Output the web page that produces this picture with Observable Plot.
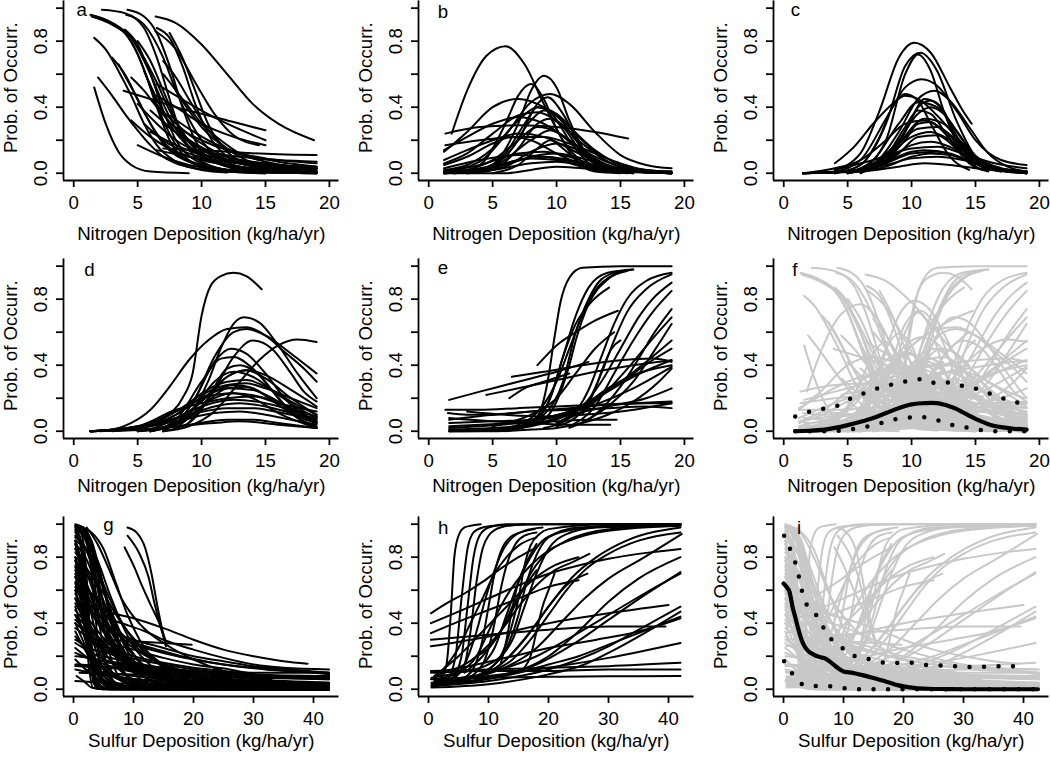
<!DOCTYPE html>
<html><head><meta charset="utf-8">
<script src="https://cdn.jsdelivr.net/npm/d3@7"></script>
<script src="https://cdn.jsdelivr.net/npm/@observablehq/plot@0.6"></script>
<style>
html,body{margin:0;padding:0;background:#fff;}
body{width:1050px;height:759px;overflow:hidden;position:relative;font-family:"Liberation Sans",Arial,Helvetica,sans-serif;}
.panel{position:absolute;}
</style></head><body>
<script>
// ---------- tick values and labels ----------
const nitrogenTicks = [0, 5, 10, 15, 20];
const sulfurTicks = [0, 10, 20, 30, 40];
const probTicks = [0, 0.2, 0.4, 0.6, 0.8, 1.0];
const probLabelValues = [0, 0.4, 0.8];
const probLabelText = ["0.0", "0.4", "0.8"];
const nitrogenTitle = "Nitrogen Deposition (kg/ha/yr)";
const sulfurTitle = "Sulfur Deposition (kg/ha/yr)";
const yTitle = "Prob. of Occurr.";
const panelLetters = ["a","b","c","d","e","f","g","h","i"];

// ---------- species response curves: [x0,y0,x1,y1,...] ----------
const curvesA = [
 [1.6,0.52, 2.5,0.3, 3.5,0.13, 4.5,0.05, 6,0.01, 9,0],
 [1.9,0.58, 3,0.47, 4,0.36, 5,0.26, 6,0.17, 7,0.1, 8,0.06, 9.5,0.03, 12,0.01, 15,0],
 [1.6,0.82, 2.5,0.75, 3.5,0.62, 4.5,0.47, 5.5,0.3, 6.5,0.17, 8,0.07, 10,0.02, 12,0.005],
 [1.3,0.96, 2.5,0.93, 4,0.85, 5,0.72, 6,0.52, 7,0.32, 8,0.17, 9,0.08, 11,0.02, 15,0],
 [1.4,0.95, 3,0.9, 4.5,0.8, 5.5,0.63, 6.5,0.4, 7.5,0.2, 9,0.07, 12,0.01, 19,0],
 [1.5,0.95, 3,0.91, 4.5,0.82, 6,0.6, 7,0.42, 8,0.27, 10,0.1, 13,0.03, 19,0.003],
 [2.2,0.99, 4,0.97, 5.5,0.88, 6.5,0.7, 7.5,0.45, 8.5,0.22, 10,0.07, 13,0.01, 19,0],
 [3.5,0.66, 4.5,0.52, 5.5,0.37, 6.5,0.24, 8,0.12, 10,0.05, 13,0.015, 16,0.005],
 [4,0.87, 5,0.78, 6,0.6, 7,0.38, 8,0.2, 9.5,0.08, 12,0.02, 15,0.005],
 [3.9,0.5, 6,0.45, 8,0.4, 10,0.36, 12,0.32, 15,0.26],
 [4.2,0.99, 5.5,0.95, 6.5,0.85, 7.5,0.65, 8.5,0.4, 9.5,0.2, 11,0.07, 14,0.01, 19,0],
 [4.1,0.96, 5.5,0.9, 7,0.7, 8,0.5, 9,0.33, 10.5,0.15, 12.5,0.05, 16,0.01, 19,0],
 [6.4,0.95, 8,0.91, 10,0.78, 12,0.6, 14,0.42, 16,0.3, 18.8,0.2],
 [6.5,0.88, 7.5,0.82, 8.5,0.65, 9.5,0.42, 10.5,0.24, 12,0.1, 14,0.04, 19,0.005],
 [6.4,0.86, 8,0.75, 9.5,0.55, 11,0.36, 12.5,0.23, 14.5,0.17],
 [6.5,0.54, 8,0.47, 10,0.38, 12,0.3, 15,0.2],
 [6.5,0.47, 8,0.4, 10,0.3, 12.5,0.22, 15,0.17],
 [7,0.15, 10,0.14, 13,0.125, 16,0.115, 19,0.11],
 [5.5,0.3, 7,0.2, 9,0.12, 11,0.08, 14,0.05, 19,0.03],
 [4.5,0.32, 6,0.22, 8,0.13, 10,0.08, 13,0.04, 19,0.01],
 [5.5,0.62, 6.5,0.45, 7.5,0.3, 9,0.16, 11,0.07, 15,0.02, 19,0.005],
 [6,0.45, 8,0.3, 10,0.18, 12,0.1, 15,0.06, 19,0.03],
 [5,0.42, 6.5,0.3, 8,0.2, 10,0.12, 13,0.06, 16,0.03],
 [6.5,0.14, 9,0.1, 12,0.07, 15,0.05, 19,0.04],
 [7,0.3, 9,0.2, 11,0.12, 13,0.08, 16,0.05, 19,0.03],
 [7.5,0.85, 8.5,0.7, 9.5,0.5, 10.5,0.3, 12,0.13, 14,0.05, 17,0.01],
 [8,0.28, 10,0.2, 12,0.14, 15,0.09, 19,0.06],
 [5,0.17, 7,0.1, 9,0.05, 12,0.02, 15,0.01],
 [9,0.2, 11,0.1, 13,0.06, 16,0.03, 19,0.02],
 [7,0.6, 8,0.5, 9,0.38, 10,0.28, 12,0.15, 14.5,0.08],
 [3,0.7, 4,0.6, 5,0.45, 6,0.3, 7,0.18, 9,0.07, 12,0.02, 15,0.005],
 [5,0.8, 6,0.68, 7,0.5, 8,0.32, 9,0.19, 11,0.07, 14,0.02, 19,0.003],
 [5.5,0.7, 6.5,0.55, 7.5,0.38, 8.5,0.25, 10,0.12, 12,0.05, 15,0.015, 19,0.005],
 [6,0.38, 7.5,0.28, 9,0.19, 11,0.11, 14,0.05, 19,0.02],
 [4.5,0.58, 5.5,0.5, 6.5,0.4, 8,0.27, 10,0.15, 12.5,0.07, 16,0.03],
 [7,0.68, 8,0.58, 9,0.45, 10,0.32, 11.5,0.18, 13.5,0.08, 16,0.03, 19,0.01],
 [8,0.5, 9,0.4, 10,0.3, 11.5,0.2, 13,0.12, 15,0.07, 19,0.03],
 [6,0.25, 8,0.17, 10,0.11, 12,0.08, 15,0.05, 19,0.04],
 [9,0.15, 11,0.12, 13,0.1, 16,0.08, 19,0.07],
 [7.5,0.35, 9,0.27, 11,0.18, 13,0.12, 16,0.07, 19,0.04]
];
const curvesB = [
 [1.8,0.24, 3,0.5, 4.5,0.71, 6,0.77, 7.5,0.66, 9,0.42, 10.5,0.2, 12,0.07, 14,0.01, 15.6,0],
 [3,0, 5,0.05, 7,0.3, 8,0.5, 9,0.59, 10,0.52, 11,0.32, 12.5,0.1, 14,0.02, 16,0],
 [2,0, 4,0.05, 6,0.3, 7,0.47, 8,0.54, 9,0.45, 10,0.27, 11.5,0.08, 13,0.01, 15,0],
 [1.2,0.01, 4,0.07, 6,0.23, 8,0.43, 9.5,0.48, 11,0.42, 13,0.25, 15,0.11, 17,0.05, 19,0.03],
 [1.2,0.13, 3,0.25, 5,0.4, 7,0.45, 9,0.4, 11,0.28, 13,0.14, 15,0.05, 17,0.02, 19,0.01],
 [1.3,0.24, 4,0.28, 7,0.29, 10,0.28, 13,0.25, 15.6,0.21],
 [1.3,0.17, 4,0.2, 7,0.22, 9,0.22, 11,0.18, 13,0.12, 15,0.06, 17,0.02, 19,0.01],
 [1.2,0.14, 3,0.22, 5,0.3, 7,0.34, 9,0.3, 11,0.2, 13,0.1, 15,0.04, 19,0],
 [1.2,0.02, 3,0.05, 5,0.15, 7,0.32, 8.5,0.4, 10,0.36, 12,0.2, 14,0.07, 16,0.02, 19,0],
 [2,0, 4,0.02, 6,0.12, 7.5,0.3, 8.5,0.4, 9.5,0.37, 11,0.2, 12.5,0.06, 14,0.01],
 [1.2,0.06, 3,0.12, 5,0.24, 7,0.35, 8.5,0.37, 10,0.32, 12,0.18, 14,0.07, 17,0.01],
 [3,0, 5,0.02, 7,0.15, 8.5,0.3, 9.5,0.33, 10.5,0.28, 12,0.12, 13.5,0.03],
 [1.2,0.01, 4,0.05, 7,0.12, 9,0.13, 11,0.1, 13,0.05, 15,0.02, 19,0],
 [1.2,0, 4,0.02, 7,0.08, 9,0.1, 11,0.08, 14,0.03, 19,0],
 [1.2,0, 5,0.02, 8,0.06, 10,0.07, 12,0.05, 15,0.02, 19,0],
 [1.2,0.03, 4,0.08, 7,0.11, 9,0.1, 12,0.06, 15,0.02, 19,0],
 [1.2,0, 5,0.04, 8,0.2, 9.5,0.26, 11,0.2, 13,0.08, 15,0.02],
 [1.2,0.08, 3,0.14, 5,0.2, 7,0.24, 9,0.22, 11,0.15, 13,0.07, 15,0.03, 18,0.01],
 [2,0, 5,0.05, 7,0.2, 8.5,0.42, 9.3,0.46, 10.5,0.36, 12,0.14, 13.5,0.03],
 [1.2,0, 4,0.01, 6,0.04, 8,0.13, 10,0.18, 12,0.13, 14,0.05, 16,0.01, 19,0],
 [1.2,0.01, 4,0.03, 6,0.06, 8,0.09, 10,0.08, 12,0.04, 14,0.01],
 [1.2,0.05, 3,0.1, 5,0.18, 6.5,0.22, 8,0.2, 10,0.12, 12,0.05, 14,0.01],
 [3,0.02, 5,0.08, 7,0.2, 8.5,0.28, 10,0.25, 12,0.12, 14,0.03, 16,0],
 [1.2,0, 3,0.01, 6,0.05, 8,0.1, 10,0.12, 12,0.09, 14,0.04, 16,0.01, 19,0],
 [5,0, 7,0.05, 8.5,0.15, 9.5,0.2, 10.5,0.15, 12,0.05, 13.5,0.01],
 [1.2,0, 6,0, 8,0.02, 10,0.04, 12,0.03, 15,0.01, 19,0],
 [4,0.02, 6,0.1, 8,0.32, 9,0.38, 10,0.35, 11.5,0.2, 13,0.07, 15,0.01]
];
const curvesC = [
 [4,0.02, 6,0.12, 7.5,0.38, 9,0.7, 10.2,0.79, 11.5,0.73, 13,0.52, 14,0.38, 14.7,0.3],
 [4,0, 6,0.05, 8,0.3, 9.5,0.65, 10.7,0.73, 12,0.62, 13.5,0.32, 15,0.1, 16.5,0.02, 19,0],
 [6,0.02, 8,0.2, 9.5,0.6, 10.5,0.72, 11.5,0.62, 12.5,0.38, 14,0.12, 15.5,0.02],
 [1.5,0, 4,0.01, 6,0.08, 8,0.33, 9.5,0.52, 10.8,0.57, 12,0.53, 13.5,0.38, 15,0.2, 17,0.08, 19,0.05],
 [4,0.06, 5.5,0.16, 7,0.3, 8.5,0.42, 9.5,0.47, 10.5,0.45, 12,0.35, 13.5,0.22, 15,0.1, 17,0.03],
 [5,0, 7,0.05, 9,0.25, 10.5,0.45, 11.8,0.5, 13,0.44, 14.5,0.28, 16,0.12, 17.5,0.04, 19,0.01],
 [4,0, 6,0.05, 7.5,0.22, 8.5,0.4, 9.5,0.48, 10.5,0.44, 11.5,0.3, 13,0.1, 14.5,0.02],
 [1.5,0, 5,0.01, 7,0.08, 9,0.3, 10.5,0.43, 12,0.4, 13.5,0.26, 15,0.1, 17,0.02],
 [5,0, 7,0.05, 9,0.2, 10.5,0.36, 11.5,0.4, 12.5,0.36, 14,0.2, 15.5,0.06, 17,0.01],
 [5,0, 7,0.04, 9,0.18, 11,0.33, 12.5,0.3, 14,0.18, 16,0.05, 19,0],
 [1.5,0, 5,0.01, 7,0.06, 9,0.18, 10.5,0.27, 12,0.28, 13.5,0.2, 15,0.1, 17,0.03, 19,0.01],
 [2,0, 6,0.02, 8,0.1, 10,0.22, 11.5,0.25, 13,0.2, 15,0.08, 17,0.02],
 [1.5,0, 6,0.02, 8,0.08, 10,0.17, 11.5,0.19, 13,0.16, 15,0.08, 17,0.02, 19,0],
 [1.5,0, 5,0.01, 8,0.06, 10,0.12, 12,0.13, 14,0.09, 16,0.04, 19,0.01],
 [1.5,0, 5,0.01, 8,0.05, 10,0.09, 12,0.1, 14,0.08, 16,0.04, 19,0.01],
 [1.5,0, 6,0.01, 9,0.04, 11,0.06, 13,0.05, 15,0.03, 19,0],
 [1.5,0, 6,0.02, 8,0.07, 10,0.13, 11,0.14, 13,0.12, 15,0.06, 17,0.02, 19,0],
 [6,0.01, 8,0.08, 9.5,0.2, 10.5,0.3, 11.5,0.31, 12.5,0.25, 14,0.12, 16,0.02],
 [6,0, 8,0.1, 9.5,0.28, 10.5,0.38, 11.5,0.36, 13,0.2, 14.5,0.06, 16,0.01],
 [1.5,0, 4,0.03, 6,0.08, 8,0.2, 9.5,0.3, 11,0.32, 12.5,0.26, 14,0.15, 16,0.05, 18,0.01],
 [7,0.02, 9,0.12, 10.5,0.22, 12,0.23, 13.5,0.15, 15,0.06, 17,0.01],
 [6,0.01, 8,0.04, 10,0.1, 11.5,0.12, 13,0.11, 15,0.06, 17,0.02],
 [4,0.02, 7,0.08, 10,0.15, 12,0.16, 14,0.12, 16.5,0.06, 19,0.03],
 [6,0.01, 8.5,0.12, 10,0.33, 11,0.45, 12,0.42, 13,0.3, 14.5,0.1, 16,0.02],
 [8,0.05, 9.5,0.25, 10.5,0.4, 11.5,0.44, 12.5,0.38, 13.5,0.22, 15,0.05]
];
const curvesD = [
 [1.3,0, 5,0.02, 7,0.08, 8.5,0.2, 9.3,0.35, 10,0.7, 10.7,0.88, 11.5,0.94, 12.5,0.96, 13.5,0.94, 14.7,0.86],
 [1.3,0, 3,0.01, 4.5,0.05, 6,0.13, 7.5,0.27, 9,0.43, 10.5,0.55, 12,0.62, 13.5,0.63, 15,0.58, 16.5,0.48, 18,0.38, 19,0.3],
 [5,0, 7,0.02, 9,0.1, 10.5,0.3, 11.5,0.5, 12.5,0.65, 13.3,0.69, 14.5,0.66, 16,0.52, 17.5,0.35, 19,0.2],
 [7,0, 9,0.03, 11,0.12, 13,0.3, 14.5,0.43, 16,0.52, 17.5,0.555, 19,0.54],
 [6,0, 8,0.05, 9.5,0.2, 11,0.45, 12.5,0.6, 13.5,0.62, 15,0.58, 16.5,0.5, 18,0.41, 19,0.35],
 [7,0, 9,0.05, 11,0.25, 12.5,0.45, 14,0.55, 15.5,0.5, 17,0.35, 18,0.24, 19,0.18],
 [6,0, 8,0.05, 9.5,0.2, 11,0.42, 12.3,0.5, 13.5,0.47, 15,0.35, 16.5,0.2, 18,0.1, 19,0.06],
 [6,0, 8,0.07, 10,0.3, 11.5,0.44, 12.5,0.45, 14,0.38, 15.5,0.25, 17,0.12, 19,0.05],
 [5,0, 8,0.05, 10,0.18, 12,0.33, 13.5,0.37, 15,0.34, 17,0.25, 19,0.15],
 [3,0, 6,0.04, 8,0.12, 10,0.22, 12,0.28, 13.5,0.29, 15,0.26, 17,0.2, 19,0.14],
 [2,0, 5,0.02, 8,0.1, 10,0.2, 12,0.26, 14,0.25, 16,0.18, 18,0.1, 19,0.07],
 [1.3,0, 5,0.03, 8,0.12, 10,0.2, 12.5,0.23, 15,0.2, 17,0.14, 19,0.09],
 [1.3,0, 5,0.02, 8,0.08, 10,0.15, 12.5,0.19, 15,0.17, 17,0.13, 19,0.09],
 [1.3,0, 5,0.02, 8,0.06, 11,0.11, 13,0.12, 15,0.1, 17,0.07, 19,0.04],
 [1.3,0, 6,0.01, 9,0.04, 12,0.07, 14,0.07, 16,0.05, 19,0.02],
 [1.3,0, 5,0.02, 8,0.1, 10,0.23, 12,0.3, 13.5,0.31, 15,0.27, 17,0.18, 19,0.1],
 [6,0, 8,0.04, 10,0.15, 12,0.26, 13.5,0.27, 15,0.22, 17,0.13, 19,0.05],
 [1.3,0, 6,0.03, 9,0.1, 11,0.15, 13,0.17, 15,0.15, 17,0.11, 19,0.06],
 [6,0.01, 9,0.12, 11,0.24, 12.5,0.28, 14,0.26, 16,0.16, 18,0.06, 19,0.03],
 [7,0.01, 9,0.08, 11,0.2, 12.5,0.23, 14,0.2, 16,0.11, 19,0.02],
 [1.3,0, 5,0.01, 8,0.03, 11,0.05, 13,0.06, 16,0.04, 19,0.02],
 [7,0, 9.5,0.15, 11,0.3, 12.5,0.36, 14,0.33, 16,0.22, 18,0.12, 19,0.08],
 [8,0.02, 10,0.15, 12,0.33, 13.5,0.37, 15,0.32, 17,0.2, 19,0.1],
 [9,0.05, 10.5,0.2, 12,0.38, 13,0.4, 14.5,0.34, 16,0.2, 17.5,0.08, 19,0.02],
 [1.3,0, 5,0.03, 8,0.13, 10,0.17, 12,0.2, 14,0.21, 16,0.17, 19,0.12],
 [1.3,0, 6,0.04, 9,0.1, 12,0.14, 14,0.14, 17,0.1, 19,0.08]
];
const curvesE = [
 [1.6,0, 5,0.003, 7,0.02, 8.5,0.09, 9.3,0.3, 9.8,0.55, 10.3,0.78, 11,0.93, 12,0.99, 15,1, 19,1],
 [6,0.01, 8,0.06, 9.5,0.2, 10.5,0.45, 11.5,0.7, 12.5,0.87, 14,0.96, 16,0.98],
 [6,0.02, 8,0.08, 10,0.3, 11,0.5, 12,0.7, 13,0.85, 14.5,0.95, 16,0.98],
 [7,0.03, 9,0.1, 10.5,0.3, 11.5,0.6, 12.5,0.8, 13.5,0.92, 15,0.97],
 [7,0.02, 9,0.07, 10,0.18, 11,0.4, 11.5,0.55, 12.5,0.77, 14,0.92, 15.5,0.97],
 [6,0, 8,0.04, 9.5,0.2, 10.5,0.45, 11.5,0.65, 12.8,0.79, 14.1,0.87],
 [8.5,0.4, 10,0.52, 11.5,0.6, 13,0.67, 14.8,0.73],
 [9,0.02, 11,0.08, 12.5,0.25, 13.5,0.45, 14.5,0.65, 15.5,0.8, 17,0.91, 19,0.96],
 [10,0.03, 12,0.12, 13.5,0.35, 14.5,0.55, 15.5,0.72, 17,0.86, 19,0.95],
 [10,0.05, 12,0.15, 13.5,0.3, 15,0.5, 16.5,0.7, 17.5,0.8, 19,0.9],
 [11,0.03, 13,0.15, 14.5,0.35, 16,0.55, 17.5,0.72, 19,0.85],
 [11,0.02, 13,0.1, 15,0.27, 16.5,0.45, 17.5,0.58, 19,0.74],
 [10,0.05, 12,0.12, 14,0.25, 16,0.42, 17.5,0.56, 19,0.69],
 [12,0.05, 14,0.15, 16,0.3, 17.5,0.47, 19,0.65],
 [5,0.04, 8,0.07, 11,0.12, 13,0.2, 15,0.3, 17,0.42, 19,0.55],
 [9,0.08, 12,0.15, 14,0.25, 16,0.35, 17.5,0.43, 19,0.5],
 [1.6,0.19, 4,0.24, 6,0.28, 8,0.32, 10,0.36, 12.5,0.42],
 [6.5,0.33, 9,0.36, 12,0.4, 15,0.43, 17.5,0.44, 19,0.42],
 [4.5,0.22, 7,0.26, 10,0.31, 13,0.36, 16,0.4, 19,0.43],
 [1.3,0.13, 4,0.13, 7,0.14, 10,0.15, 13,0.16, 16,0.17, 19,0.18],
 [1.6,0.07, 5,0.1, 8,0.12, 11,0.14, 14,0.16, 17,0.17, 19,0.17],
 [1.5,0.11, 3,0.1, 5,0.1, 8,0.12, 11,0.13, 14,0.14, 17,0.15, 19,0.14],
 [1.6,0.03, 4,0.04, 7,0.05, 10,0.06, 12.5,0.07, 14.7,0.07],
 [1.6,0.05, 5,0.06, 8,0.07, 11,0.1, 14,0.15, 17,0.2, 19,0.26],
 [1.6,0.01, 5,0.02, 8,0.04, 10,0.08, 12,0.15, 14,0.26, 16,0.34, 19,0.4],
 [1.6,0, 5,0.01, 8,0.03, 10,0.07, 12,0.14, 14,0.24, 16,0.33, 18,0.4, 19,0.43],
 [1.6,0.02, 4,0.03, 7,0.05, 10,0.09, 13,0.16, 16,0.26, 19,0.39],
 [1.6,0.08, 5,0.06, 8,0.05, 11,0.04, 14.2,0.04],
 [6.3,0.2, 7.5,0.26, 9,0.3, 11,0.35],
 [1.6,0, 5,0, 8,0.01, 10,0.02, 12,0.05, 14,0.1, 16,0.18, 18,0.3, 19,0.38],
 [3,0.12, 6,0.1, 9,0.09, 12,0.1, 15,0.12, 19,0.17],
 [5,0.03, 8,0.1, 10,0.2, 11.5,0.35, 13,0.5, 14.5,0.6],
 [12,0.1, 13,0.25, 13.7,0.4, 14.3,0.5, 15,0.55]
];
const curvesG = [
 [2.2,0.98, 4,0.88, 6,0.72, 8,0.55, 10,0.44, 12,0.36, 15,0.28, 20,0.18, 25,0.11, 30,0.07, 35,0.04, 42.6,0.02],
 [9,0.98, 10.5,0.95, 12,0.85, 13,0.7, 14,0.5, 15.4,0.26],
 [9,0.93, 11,0.82, 12.5,0.68, 13.5,0.52, 14.5,0.38, 15.3,0.28],
 [8.5,0.86, 10,0.75, 11.5,0.62, 13,0.5, 14.3,0.4, 15.3,0.3],
 [3,0.5, 6.5,0.46, 10,0.43, 15,0.37, 20,0.3, 25,0.24, 30,0.2, 35,0.17, 39,0.155],
 [4,0.45, 8,0.4, 12,0.35, 15,0.3, 20,0.24, 25,0.19, 30,0.15, 35,0.13, 42.6,0.12],
 [5,0.3, 10,0.29, 15,0.28, 19.7,0.27],
 [10,0.27, 15,0.22, 20,0.18, 25,0.15, 30,0.13, 36,0.11, 42.6,0.1],
 [2,0.3, 6,0.25, 10,0.2, 15,0.16, 20,0.13, 25,0.11, 30,0.09, 35,0.08, 42.6,0.08],
 [1,0.2, 5,0.17, 10,0.14, 15,0.12, 20,0.1, 27,0.08, 33,0.06],
 [0.5,0.15, 5,0.14, 10,0.13, 15,0.12, 20,0.11, 30,0.1, 42.6,0.1],
 [0.3,0.99, 1,0.97, 1.8,0.85, 2.5,0.5, 3,0.15, 3.5,0.03, 4.5,0.002, 10,0, 20,0, 42.6,0],
 [0.3,0.95, 1,0.9, 2,0.6, 2.7,0.25, 3.3,0.05, 4,0.005, 8,0, 30,0],
 [0.3,0.9, 1.2,0.75, 2,0.45, 3,0.12, 4,0.02, 6,0, 40,0],
 [0.3,0.8, 1,0.7, 2,0.4, 3,0.15, 4,0.04, 6,0.003, 20,0],
 [0.3,0.7, 1.5,0.55, 3,0.25, 4.5,0.08, 6,0.02, 10,0, 42.6,0],
 [0.3,0.6, 2,0.4, 4,0.15, 6,0.05, 9,0.01, 20,0],
 [0.3,0.5, 2,0.3, 4,0.1, 7,0.02, 12,0, 42.6,0],
 [0.3,0.4, 1.5,0.3, 3,0.18, 5,0.08, 8,0.02, 15,0, 35,0],
 [0.3,0.35, 1,0.3, 2.5,0.2, 4,0.1, 6,0.04, 10,0.01, 42,0],
 [0.3,0.3, 1.5,0.27, 3,0.2, 6,0.1, 10,0.04, 20,0.005, 42.6,0],
 [0.3,0.25, 2,0.2, 5,0.12, 10,0.05, 20,0.01, 42.6,0],
 [0.3,0.15, 2,0.14, 5,0.1, 10,0.06, 20,0.02, 30,0.01, 42.6,0.005],
 [0.5,0.08, 2,0.04, 3,0.01, 5,0, 20,0],
 [0.3,1.0, 1.5,0.98, 3,0.9, 4.5,0.7, 6,0.45, 8,0.22, 10,0.1, 13,0.03, 20,0.005, 42.6,0],
 [0.3,0.98, 2,0.93, 4,0.75, 6,0.5, 8,0.3, 11,0.13, 15,0.05, 25,0.01, 42.6,0],
 [0.3,0.92, 2,0.85, 4,0.65, 6,0.42, 9,0.2, 13,0.07, 20,0.02, 42.6,0.002],
 [0.3,0.85, 2,0.75, 4,0.55, 6,0.38, 9,0.2, 13,0.09, 20,0.03, 30,0.01, 42.6,0.003],
 [0.3,0.75, 2,0.65, 5,0.4, 8,0.22, 12,0.1, 18,0.04, 28,0.01, 42.6,0.003],
 [0.3,0.65, 2,0.55, 5,0.35, 8,0.2, 12,0.1, 18,0.05, 28,0.02, 42.6,0.01],
 [0.3,0.55, 3,0.4, 6,0.27, 10,0.15, 15,0.08, 22,0.04, 32.6,0.02],
 [0.3,0.45, 3,0.35, 7,0.22, 12,0.12, 18,0.07, 25,0.05, 35,0.04, 42.6,0.03],
 [0.3,0.4, 3,0.32, 7,0.22, 12,0.14, 20,0.08, 30,0.05, 42.6,0.04],
 [0.3,0.9, 1.5,0.75, 3,0.45, 5,0.2, 7,0.08, 10,0.02, 15,0, 42.6,0],
 [0.3,0.78, 1.5,0.6, 3,0.33, 5,0.12, 7,0.04, 12,0.005, 42.6,0],
 [0.3,0.68, 2,0.48, 4,0.25, 6,0.12, 9,0.04, 15,0.01, 42.6,0],
 [1,0.95, 2.5,0.9, 4,0.75, 5.5,0.55, 7,0.35, 9,0.18, 12,0.07, 16,0.02, 25,0, 42.6,0],
 [0.3,0.2, 3,0.19, 6,0.16, 10,0.13, 15,0.1, 20,0.08, 30,0.05, 42.6,0.03],
 [3,0.28, 6,0.22, 10,0.16, 15,0.11, 20,0.08, 30,0.05, 42.6,0.03],
 [0.3,0.88, 1.2,0.7, 2,0.35, 2.7,0.1, 3.2,0.01, 5,0, 42,0],
 [0.3,0.14, 10,0.12, 20,0.1, 30,0.08, 40,0.07, 42.6,0.07],
 [5,0.2, 10,0.16, 20,0.1, 30,0.06, 42.6,0.04],
 [4,0.3, 10,0.24, 15,0.19, 20,0.15, 26,0.12, 32.6,0.07],
 [0.3,0.97, 2,0.92, 4,0.78, 6,0.58, 8,0.4, 10,0.26, 13,0.14, 18,0.05, 25,0.015, 42.6,0],
 [0.3,0.93, 2,0.86, 4,0.7, 6,0.5, 8,0.33, 11,0.17, 15,0.07, 22,0.02, 42.6,0],
 [0.3,0.88, 2,0.8, 4,0.62, 6,0.45, 9,0.25, 12,0.13, 17,0.05, 25,0.01, 42.6,0],
 [0.3,0.83, 2,0.72, 4,0.52, 7,0.3, 10,0.16, 14,0.07, 20,0.02, 42.6,0.002],
 [0.3,0.78, 1.5,0.7, 3,0.55, 5,0.36, 8,0.18, 12,0.07, 18,0.02, 42.6,0],
 [0.3,0.72, 2,0.6, 4,0.44, 7,0.26, 10,0.15, 15,0.06, 25,0.015, 42.6,0.003],
 [0.3,0.62, 2,0.52, 4,0.4, 7,0.25, 11,0.13, 16,0.06, 25,0.02, 42.6,0.005],
 [0.3,0.58, 2,0.45, 4,0.3, 6,0.18, 9,0.08, 14,0.02, 25,0, 42.6,0],
 [0.3,0.52, 2,0.42, 5,0.28, 8,0.17, 12,0.09, 18,0.04, 28,0.015, 42.6,0.005],
 [0.3,0.48, 3,0.36, 6,0.24, 10,0.13, 15,0.06, 25,0.02, 42.6,0.005],
 [0.3,0.42, 2,0.36, 5,0.26, 9,0.16, 14,0.09, 22,0.04, 32,0.02, 42.6,0.01],
 [0.3,0.37, 3,0.3, 6,0.22, 10,0.15, 16,0.09, 25,0.05, 42.6,0.02],
 [0.3,0.32, 2,0.25, 4,0.16, 6,0.09, 9,0.04, 14,0.01, 42.6,0],
 [0.3,0.28, 3,0.22, 7,0.15, 12,0.09, 20,0.04, 30,0.02, 42.6,0.01],
 [0.3,0.22, 3,0.18, 7,0.13, 12,0.09, 20,0.05, 30,0.03, 42.6,0.02],
 [0.3,0.18, 2,0.12, 4,0.06, 7,0.02, 12,0, 42.6,0],
 [0.3,0.12, 3,0.1, 8,0.07, 15,0.05, 25,0.03, 42.6,0.02],
 [0.5,0.99, 1.5,0.98, 2.5,0.9, 3.5,0.65, 4.5,0.35, 5.5,0.15, 7,0.04, 10,0.005, 20,0],
 [0.5,0.98, 2,0.95, 3,0.85, 4,0.62, 5,0.38, 6.5,0.16, 8,0.06, 12,0.01, 42.6,0],
 [0.5,0.97, 2,0.9, 3.5,0.7, 5,0.45, 6.5,0.25, 8,0.12, 11,0.03, 20,0, 42.6,0],
 [1,0.99, 2,0.97, 3,0.88, 4,0.7, 5,0.5, 6,0.33, 8,0.13, 11,0.03, 20,0],
 [0.3,0.96, 1,0.93, 1.7,0.8, 2.3,0.55, 3,0.25, 3.7,0.07, 5,0.01, 42.6,0],
 [0.3,0.85, 1,0.8, 1.8,0.62, 2.5,0.35, 3.2,0.12, 4,0.03, 6,0, 42.6,0],
 [0.3,0.74, 1,0.66, 2,0.45, 3,0.22, 4,0.08, 5.5,0.02, 42.6,0],
 [0.3,0.64, 1,0.57, 2,0.38, 3,0.2, 4,0.09, 6,0.02, 42.6,0],
 [0.3,0.55, 1.2,0.46, 2.5,0.28, 3.5,0.14, 5,0.04, 8,0.005, 42.6,0],
 [0.3,0.45, 1.5,0.35, 3,0.19, 4.5,0.08, 6.5,0.02, 42.6,0],
 [0.3,0.99, 1.5,0.96, 2.5,0.85, 3.3,0.6, 4,0.3, 4.6,0.1, 5.5,0.02, 42.6,0],
 [1.5,0.98, 3,0.95, 5,0.85, 7,0.65, 9,0.45, 11,0.3, 14,0.16, 18,0.07, 25,0.02, 42.6,0],
 [0.3,0.9, 2,0.85, 4,0.72, 6,0.55, 9,0.35, 12,0.22, 16,0.12, 22,0.05, 32,0.015, 42.6,0.005],
 [0.3,0.8, 2,0.74, 5,0.58, 8,0.4, 11,0.27, 15,0.15, 20,0.08, 30,0.03, 42.6,0.01],
 [0.3,0.68, 3,0.58, 6,0.42, 9,0.3, 13,0.19, 18,0.11, 25,0.06, 35,0.03, 42.6,0.02],
 [0.3,0.6, 3,0.5, 6,0.38, 10,0.25, 15,0.15, 22,0.08, 32,0.04, 42.6,0.02],
 [2,0.25, 8,0.2, 15,0.15, 22,0.11, 30,0.08, 42.6,0.06],
 [1,0.1, 10,0.09, 20,0.08, 30,0.07, 42.6,0.06],
 [3,0.18, 10,0.15, 20,0.11, 30,0.09, 42.6,0.08],
 [0.3,0.05, 5,0.04, 15,0.03, 30,0.025, 42.6,0.02],
 [2,0.12, 10,0.08, 20,0.05, 30,0.04, 42.6,0.03],
 [6,0.35, 10,0.3, 15,0.25, 20,0.2, 25,0.17, 30,0.14, 36,0.12, 42.6,0.1],
 [8,0.3, 13,0.25, 18,0.2, 25,0.15, 32,0.12, 40,0.1, 42.6,0.09]
];
const curvesH = [
 [0.5,0.03, 2,0.06, 3,0.15, 3.7,0.45, 4.3,0.8, 5,0.93, 6,0.98, 7,0.99, 8.7,1.0],
 [1,0.02, 3,0.05, 4.5,0.2, 5.5,0.55, 6.5,0.85, 7.5,0.95, 9,0.98, 11,0.99, 20,1.0, 42,1.0],
 [1,0.03, 4,0.07, 5.5,0.2, 6.5,0.5, 7.5,0.8, 8.5,0.93, 10,0.98, 13,1.0, 25,1.0, 42,1.0],
 [1,0.03, 4,0.06, 6,0.15, 7,0.35, 8,0.65, 9,0.85, 10,0.93, 12,0.98, 16,1.0],
 [1,0.02, 4,0.04, 7,0.1, 9,0.3, 10,0.5, 11,0.7, 12,0.83, 14,0.93, 17.7,0.97],
 [2,0.03, 6,0.06, 9,0.15, 11,0.4, 12,0.6, 13,0.75, 14.5,0.88, 16,0.93, 18,0.95],
 [3,0.04, 8,0.08, 12,0.2, 14,0.4, 15,0.55, 16,0.75, 17,0.87, 18.5,0.94, 20,0.97, 30,1.0, 42,1.0],
 [4,0.04, 9,0.1, 13,0.25, 15,0.45, 16,0.6, 17,0.72, 18.5,0.85, 20,0.92, 25,0.98, 42,1.0],
 [0.5,0.07, 5,0.1, 10,0.15, 14,0.3, 16,0.5, 18,0.7, 20,0.85, 23,0.94, 28,0.98, 42,0.99],
 [0.4,0.46, 3,0.52, 6,0.58, 9,0.65, 12,0.73, 15,0.8, 18,0.86],
 [0.4,0.4, 5,0.47, 10,0.55, 15,0.63, 20,0.7, 25,0.75, 30,0.79, 35,0.82, 42,0.85],
 [0.4,0.34, 5,0.41, 10,0.48, 15,0.55, 20,0.62, 25,0.66],
 [0.4,0.3, 10,0.33, 20,0.36, 30,0.38, 39.5,0.38],
 [0.4,0.26, 10,0.32, 20,0.4, 30,0.46, 40,0.51],
 [0.4,0.11, 10,0.12, 20,0.13, 30,0.14, 42,0.16],
 [0.4,0.1, 10,0.11, 20,0.11, 30,0.12, 42,0.12],
 [0.4,0.06, 10,0.07, 20,0.075, 30,0.078, 42,0.08],
 [0.5,0.02, 8,0.05, 15,0.1, 20,0.15, 25,0.2, 30,0.27, 35,0.34, 42,0.44],
 [0.5,0.02, 10,0.05, 20,0.12, 25,0.18, 30,0.26, 35,0.36, 42,0.5],
 [0.5,0.01, 10,0.03, 20,0.09, 26,0.15, 30,0.22, 36,0.34, 42,0.47],
 [1,0.05, 10,0.1, 18,0.2, 24,0.32, 30,0.45, 36,0.58, 42,0.7],
 [1,0.03, 10,0.07, 18,0.15, 24,0.27, 30,0.42, 36,0.57, 42,0.71],
 [1,0.03, 12,0.08, 20,0.2, 25,0.35, 30,0.53, 35,0.67, 42,0.8],
 [3,0.05, 12,0.12, 18,0.25, 22,0.4, 26,0.55, 30,0.67, 36,0.8, 42.2,0.94],
 [5,0.05, 12,0.15, 16,0.3, 20,0.5, 24,0.68, 28,0.8, 33,0.9, 42,0.98],
 [5,0.05, 12,0.15, 17,0.35, 20,0.5, 23,0.63, 26.5,0.7],
 [1,0.08, 8,0.2, 12,0.35, 15,0.5, 18,0.63, 21,0.72, 24,0.77, 26.8,0.82],
 [12,0.15, 13,0.3, 14,0.5, 15,0.65, 16.5,0.78, 18,0.88],
 [15,0.1, 17,0.2, 18,0.35, 19,0.5, 20,0.6, 21,0.7],
 [8,0.2, 10,0.25, 12,0.35, 14,0.5, 16,0.62, 18,0.72],
 [1,0.1, 8,0.15, 14,0.2, 20,0.25, 28,0.3, 35,0.35, 42,0.43],
 [1,0.08, 5,0.2, 9,0.35, 13,0.5, 17,0.65, 21,0.75, 25,0.8],
 [2,0.1, 5,0.25, 7,0.4, 9,0.55, 11,0.7, 13,0.8, 15,0.87, 18,0.92],
 [3,0.05, 6,0.15, 8,0.35, 9.5,0.55, 11,0.72, 12.5,0.85, 14,0.92, 16,0.96, 19,0.98],
 [1,0.06, 5,0.1, 8,0.2, 10,0.35, 12,0.5, 14,0.62, 17,0.75, 20,0.84, 25,0.92, 30,0.96, 42,0.99],
 [1,0.05, 10,0.08, 20,0.13, 30,0.19, 42,0.28],
 [6,0.1, 9,0.2, 12,0.35, 15,0.55, 17,0.7, 19,0.8, 23,0.9, 27,0.95, 33,0.98, 42,1.0],
 [9,0.15, 11,0.25, 13,0.45, 15,0.65, 17,0.8, 19,0.9, 22,0.95, 27,0.98, 35,1.0],
 [0.5,0.04, 5,0.06, 10,0.1, 14,0.18, 17,0.3, 20,0.45, 23,0.6, 26,0.72, 30,0.82, 35,0.9, 42,0.95]
];

// ---------- community mean and quantile lines (panels f and i) ----------
const meanF = [0.9,0, 2,0.003, 3,0.008, 4,0.02, 5,0.037, 6,0.057, 7,0.08, 8,0.11, 9,0.14, 9.5,0.153, 10,0.163, 10.5,0.168, 11,0.17, 11.5,0.172, 12,0.17, 12.5,0.162, 13,0.15, 13.5,0.135, 14,0.115, 14.5,0.095, 15,0.075, 15.5,0.058, 16,0.043, 17,0.025, 18,0.015, 19,0.01];
const upperF = [0.9,0.09, 2.1,0.12, 3.3,0.14, 4.4,0.16, 5.5,0.21, 6.7,0.24, 7.7,0.27, 8.6,0.285, 9.7,0.305, 10.9,0.315, 12,0.29, 13,0.295, 14.2,0.27, 15.4,0.25, 16.4,0.22, 17.7,0.185, 18.8,0.165];
const lowerF = [0.9,0, 2.1,0, 3.4,0, 4.7,0.006, 6,0.02, 7.2,0.04, 8.4,0.067, 9.6,0.083, 10.8,0.085, 12,0.067, 13.1,0.04, 14.3,0.022, 15.6,0.006, 16.9,0, 18.1,0, 19,0];
const meanI = [0,0.64, 0.5,0.62, 1,0.59, 1.5,0.5, 2,0.43, 2.5,0.36, 3,0.3, 3.5,0.26, 4,0.235, 5,0.21, 6,0.195, 7,0.185, 8,0.16, 9,0.13, 10,0.108, 11,0.102, 12,0.095, 13,0.087, 14,0.078, 15,0.068, 16,0.058, 17,0.047, 18,0.036, 19,0.025, 20,0.017, 21,0.011, 22,0.007, 24,0.003, 27,0.001, 30,0, 42.4,0];
const upperI = [0.1,0.93, 1.2,0.84, 2.1,0.75, 2.7,0.66, 3.3,0.56, 4.6,0.48, 6.1,0.42, 7.2,0.33, 9,0.28, 11.1,0.21, 13.5,0.19, 15.9,0.165, 18.4,0.158, 21.2,0.16, 23.7,0.147, 26.3,0.143, 29,0.139, 31.7,0.135, 34.4,0.137, 37.1,0.141, 39.8,0.131];
const lowerI = [0.1,0.17, 0.9,0.125, 2.1,0.063, 4.1,0.018, 6.6,0.022, 9.1,0.012, 11.8,0, 14.5,0, 42,0];

// ---------- layout ----------
const FONT = '"Liberation Sans", Arial, Helvetica, sans-serif';
const FS = 18.7;
const W = 355, H = 258;
const colLeft = [0, 354.6, 710];
const rowTop = [0, 258.1, 516.3];
const titleDy = [59.3, 53.2, 50.4];
const NDOMAIN = [-0.8, 20.75];
const SDOMAIN = [-1.67, 44.25];
const YDOMAIN = [-0.044, 1.044];

const panels = [
  {row:0, col:0, kind:"N", curves:[curvesA], color:"black", lx:0.63, ly:0.95},
  {row:0, col:1, kind:"N", curves:[curvesB], color:"black", lx:1.12, ly:0.94},
  {row:0, col:2, kind:"N", curves:[curvesC], color:"black", lx:0.92, ly:0.95},
  {row:1, col:0, kind:"N", curves:[curvesD], color:"black", lx:1.23, ly:0.94},
  {row:1, col:1, kind:"N", curves:[curvesE], color:"black", lx:1.12, ly:0.95},
  {row:1, col:2, kind:"N", curves:[curvesA, curvesB, curvesC, curvesD, curvesE], color:"#c8c8c8", mean:meanF, upper:upperF, lower:lowerF, lx:0.86, ly:0.94},
  {row:2, col:0, kind:"S", curves:[curvesG], color:"black", lx:5.83, ly:0.96},
  {row:2, col:1, kind:"S", curves:[curvesH], color:"black", lx:2.45, ly:0.94},
  {row:2, col:2, kind:"S", curves:[curvesG, curvesH], color:"#c8c8c8", mean:meanI, upper:upperI, lower:lowerI, lx:2.58, ly:0.94}
];

function toRows(curveList) {
  const rows = [];
  curveList.forEach((c, k) => {
    for (let i = 0; i < c.length; i += 2) rows.push({id: k, x: c[i], y: c[i + 1]});
  });
  return rows;
}

panels.forEach((p, idx) => {
  const isN = p.kind === "N";
  const xDomain = isN ? NDOMAIN : SDOMAIN;
  const ticks = isN ? nitrogenTicks : sulfurTicks;
  const xTitle = isN ? nitrogenTitle : sulfurTitle;
  const allCurves = [].concat(...p.curves);
  const marks = [
    Plot.line(toRows(allCurves), {x: "x", y: "y", z: "id", stroke: p.color, strokeWidth: 2, curve: "monotone-x", strokeLinecap: "round", strokeLinejoin: "round"})
  ];
  if (p.mean) {
    marks.push(Plot.line(toRows([p.mean]), {x: "x", y: "y", stroke: "black", strokeWidth: 4.2, curve: "monotone-x", strokeLinecap: "round", strokeLinejoin: "round"}));
    marks.push(Plot.line(toRows([p.upper]), {x: "x", y: "y", stroke: "black", strokeWidth: 4.5, curve: "monotone-x", strokeLinecap: "round", strokeDasharray: "0,14.5"}));
    marks.push(Plot.line(toRows([p.lower]), {x: "x", y: "y", stroke: "black", strokeWidth: 4.5, curve: "monotone-x", strokeLinecap: "round", strokeDasharray: "0,14.5"}));
  }
  marks.push(
    Plot.ruleX([xDomain[0]], {stroke: "black", strokeWidth: 1.8}),
    Plot.ruleY([YDOMAIN[0]], {stroke: "black", strokeWidth: 1.8}),
    Plot.axisX(ticks, {tickSize: 7, tickPadding: 8, strokeWidth: 1.8, label: null, fontSize: FS}),
    Plot.axisY(probTicks, {tickSize: 7, strokeWidth: 1.8, label: null, tickFormat: () => ""}),
    Plot.text(probLabelValues, {y: d => d, text: (d, i) => probLabelText[i], frameAnchor: "left", dx: -16.3, rotate: -90, textAnchor: "middle", lineAnchor: "bottom", fontSize: FS}),
    Plot.text([yTitle], {text: d => d, frameAnchor: "left", dx: -47, dy: -3, rotate: -90, textAnchor: "middle", lineAnchor: "bottom", fontSize: FS}),
    Plot.text([xTitle], {text: d => d, frameAnchor: "bottom", dy: titleDy[p.row], lineAnchor: "bottom", textAnchor: "middle", fontSize: FS}),
    Plot.text([panelLetters[idx]], {x: () => p.lx, y: () => p.ly, text: d => d, lineAnchor: "bottom", textAnchor: "middle", fontSize: FS})
  );
  const svg = Plot.plot({
    width: W, height: H,
    marginLeft: 63, marginRight: W - 338.5, marginTop: 0.4, marginBottom: H - 180,
    x: {domain: xDomain, label: null},
    y: {domain: YDOMAIN, label: null},
    style: {fontFamily: FONT, fontSize: FS + "px", color: "black", background: "transparent", overflow: "visible"},
    marks
  });
  svg.classList.add("panel");
  svg.style.left = colLeft[p.col] + "px";
  svg.style.top = rowTop[p.row] + "px";
  document.body.appendChild(svg);
});
</script>
</body></html>
